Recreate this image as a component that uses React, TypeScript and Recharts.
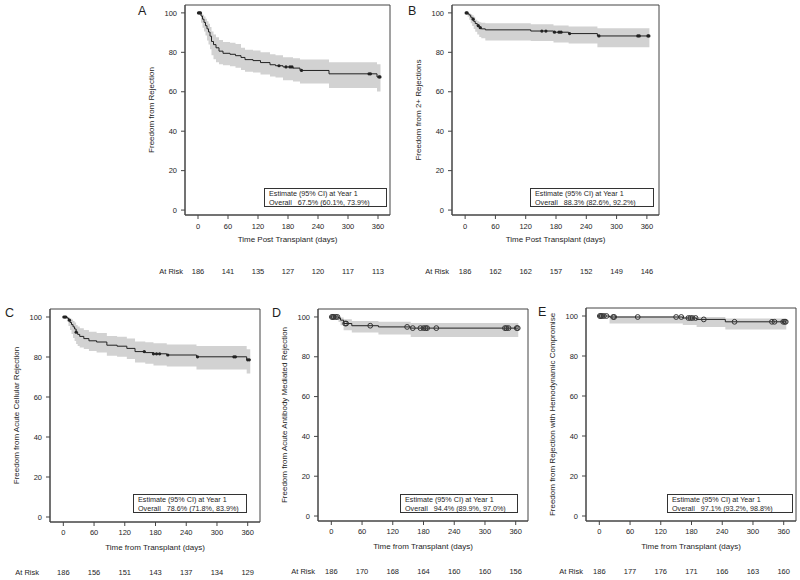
import React from "react";
import { ComposedChart, Area, Line, Scatter, XAxis, YAxis, ReferenceArea, Label } from "recharts";

const TICKS_X = [0, 60, 120, 180, 240, 300, 360];
const TICKS_Y = [0, 20, 40, 60, 80, 100];
const X_DOMAIN = [-26, 384];
const Y_DOMAIN = [-2.5, 104];

// A - any rejection
const A_TIME = [0, 6, 9, 12, 15, 18, 21, 24, 27, 31, 36, 42, 50, 64, 75, 86, 94, 110, 125, 144, 155, 170, 190, 204, 262, 358, 365];
const A_SURV = [100, 98.4, 96.8, 95.2, 93.5, 91.9, 90.3, 88.2, 85.5, 83.9, 82.3, 80.6, 79.5, 79.0, 78.3, 77.4, 76.3, 75.8, 74.8, 73.7, 73.2, 72.6, 72.0, 70.8, 69.1, 67.5, 67.5];
const A_LOWER = [100, 95, 92.5, 90.5, 88.5, 86, 84, 81.5, 78.5, 76.5, 75, 74, 73.5, 73, 72.2, 71, 70.2, 69.8, 68.8, 67.8, 67.2, 65.8, 65.2, 64.2, 61.9, 60.1, 60.1];
const A_UPPER = [100, 99.6, 99, 98.2, 97, 95.8, 94.5, 92.8, 90.5, 89, 87.7, 86.2, 85.2, 84.8, 84.2, 82.3, 81.3, 80.9, 80, 79, 78.5, 77.5, 77, 76.3, 75, 73.9, 73.9];
const A_CENSOR = [1, 3, 5, 162, 176, 184, 188, 207, 342, 345, 362, 364];
const A_AT_RISK = [186, 141, 135, 127, 120, 117, 113];

// B - 2+ rejections
const B_TIME = [0, 5, 8, 11, 14, 17, 20, 24, 28, 32, 40, 130, 175, 205, 262, 365];
const B_SURV = [100, 99.5, 98.9, 97.8, 96.8, 95.7, 94.6, 93.5, 92.5, 91.9, 91.4, 90.8, 90.2, 89.5, 88.3, 88.3];
const B_LOWER = [100, 98, 96.5, 94.8, 93.3, 91.8, 90.4, 89, 87.8, 87.2, 86, 85.7, 85, 84.5, 82.6, 82.6];
const B_UPPER = [100, 100, 99.7, 99.3, 98.8, 98.1, 96.5, 95.8, 95.3, 95, 94.8, 94.2, 93.6, 93.1, 92.2, 92.2];
const B_CENSOR = [2, 4, 16, 26, 30, 152, 160, 177, 186, 190, 207, 265, 342, 345, 362, 364];
const B_AT_RISK = [186, 162, 162, 157, 152, 149, 146];

// C - acute cellular rejection
const C_TIME = [0, 7, 10, 13, 16, 19, 22, 25, 28, 32, 40, 50, 65, 85, 105, 124, 140, 160, 176, 202, 260, 358, 365];
const C_SURV = [100, 99.5, 98.4, 97.3, 96.2, 95.1, 94, 92.4, 91.3, 90.3, 89.2, 88.1, 87.5, 85.9, 85.4, 84.3, 82.7, 82.2, 81.6, 81, 80.1, 78.6, 78.6];
const C_LOWER = [100, 97.8, 95.5, 93.5, 91.5, 89.5, 88, 86.5, 85.5, 84.8, 84, 83, 82.3, 80.6, 80.1, 79, 77.2, 76.6, 75.8, 75.2, 73.8, 71.8, 71.8];
const C_UPPER = [100, 100, 99.8, 99.3, 98.7, 98, 97.3, 96, 95.2, 94.4, 93.5, 92.6, 92, 90.5, 90.1, 89.2, 87.8, 87.4, 86.9, 86.3, 85.5, 83.9, 83.9];
const C_CENSOR = [1, 3, 5, 12, 25, 158, 176, 182, 188, 204, 262, 333, 336, 360, 363];
const C_AT_RISK = [186, 156, 151, 143, 137, 134, 129];

// D - antibody mediated rejection
const D_TIME = [0, 14, 18, 24, 40, 92, 155, 365];
const D_SURV = [100, 99.5, 98.4, 96.7, 95.6, 95.0, 94.4, 94.4];
const D_LOWER = [100, 97.5, 95.8, 93.3, 92.2, 91.2, 89.9, 89.9];
const D_UPPER = [100, 100, 99.7, 98.8, 98.0, 97.6, 97.0, 97.0];
const D_CENSOR = [1, 3, 5, 9, 12, 27, 29, 76, 148, 159, 174, 180, 184, 187, 205, 339, 342, 346, 362, 364];
const D_AT_RISK = [186, 170, 168, 164, 160, 160, 156];

// E - rejection with hemodynamic compromise
const E_TIME = [0, 20, 163, 190, 246, 365];
const E_SURV = [100, 99.5, 99.0, 98.3, 97.1, 97.1];
const E_LOWER = [100, 96.3, 95.5, 94.5, 93.2, 93.2];
const E_UPPER = [100, 99.9, 99.8, 99.5, 98.8, 98.8];
const E_CENSOR = [1, 3, 5, 9, 14, 27, 29, 75, 150, 160, 174, 178, 182, 188, 204, 264, 337, 342, 359, 362, 364];
const E_AT_RISK = [186, 177, 176, 171, 166, 163, 160];

const FONT = "'Liberation Sans', Arial, sans-serif";
const TEXT = "#1e1e1e";
const EDGE = "#444";
const Y_AXIS_W = 50;

// KM estimate at time t (value of the last step at or before t)
function stepValue(times: number[], surv: number[], t: number) {
  let v = surv[0];
  for (let i = 0; i < times.length; i++) if (times[i] <= t) v = surv[i];
  return v;
}

const TOP_ROW = { h: 210, axisH: 70, tickDy: 8, titleDy: 27, riskDy: 59, letterDy: 10 };
const BOTTOM_ROW = { axisH: 58, tickDy: 7, titleDy: 28, riskDy: 52.5, letterDy: 8 };

const PANELS = [
  {
    letter: "A", yTitle: "Freedom from Rejection", xTitle: "Time Post Transplant (days)",
    time: A_TIME, surv: A_SURV, lower: A_LOWER, upper: A_UPPER, censor: A_CENSOR, atRisk: A_AT_RISK,
    estimate: "67.5% (60.1%, 73.9%)", open: false,
    box: { x: 185, y: 5, w: 205, ...TOP_ROW, riskGap: 2, letterDx: 47, legend: { right: 3, bottom: 8, width: 123 } },
  },
  {
    letter: "B", yTitle: "Freedom from 2+ Rejections", xTitle: "Time Post Transplant (days)",
    time: B_TIME, surv: B_SURV, lower: B_LOWER, upper: B_UPPER, censor: B_CENSOR, atRisk: B_AT_RISK,
    estimate: "88.3% (82.6%, 92.2%)", open: false,
    box: { x: 452, y: 5, w: 207, ...TOP_ROW, riskGap: 3, letterDx: 44, legend: { right: 5, bottom: 8, width: 124 } },
  },
  {
    letter: "C", yTitle: "Freedom from Acute Cellular Rejection", xTitle: "Time from Transplant (days)",
    time: C_TIME, surv: C_SURV, lower: C_LOWER, upper: C_UPPER, censor: C_CENSOR, atRisk: C_AT_RISK,
    estimate: "78.6% (71.8%, 83.9%)", open: false,
    box: { x: 50, y: 309, w: 210, h: 213, ...BOTTOM_ROW, riskGap: 11, letterDx: 45, legend: { right: 13, bottom: 9, width: 114 } },
  },
  {
    letter: "D", yTitle: "Freedom from Acute Antibody Mediated Rejection", xTitle: "Time from Transplant (days)",
    time: D_TIME, surv: D_SURV, lower: D_LOWER, upper: D_UPPER, censor: D_CENSOR, atRisk: D_AT_RISK,
    estimate: "94.4% (89.9%, 97.0%)", open: true,
    box: { x: 318, y: 309, w: 210, h: 212, ...BOTTOM_ROW, riskGap: 3, letterDx: 46, legend: { right: 10, bottom: 8, width: 118 } },
  },
  {
    letter: "E", yTitle: "Freedom from Rejection with Hemodynamic Compromise", xTitle: "Time from Transplant (days)",
    time: E_TIME, surv: E_SURV, lower: E_LOWER, upper: E_UPPER, censor: E_CENSOR, atRisk: E_AT_RISK,
    estimate: "97.1% (93.2%, 98.8%)", open: true,
    box: { x: 586, y: 308, w: 210, h: 213, ...BOTTOM_ROW, riskGap: 3, letterDx: 48, legend: { right: 3, bottom: 8, width: 126 } },
  },
];

function KMPanel({ p }: { p: any }) {
  const b = p.box;
  const rows = p.time.map((t: number, i: number) => ({ t, s: p.surv[i], ci: [p.lower[i], p.upper[i]] }));
  const marks = p.censor.map((t: number) => ({ t, s: stepValue(p.time, p.surv, t) }));
  const width = Y_AXIS_W + b.w + 5;
  const height = 5 + b.h + b.axisH;

  const xTick = (props: any) => {
    const { x, y, payload } = props;
    const i = TICKS_X.indexOf(payload.value);
    return (
      <g>
        <text x={x} y={y} dy={b.tickDy} textAnchor="middle" fontSize={7.5} fill={TEXT} fontFamily={FONT}>
          {payload.value}
        </text>
        <text x={x} y={y} dy={b.riskDy - 6} textAnchor="middle" fontSize={7.5} fill={TEXT} fontFamily={FONT}>
          {p.atRisk[i]}
        </text>
      </g>
    );
  };

  const xLabels = ({ viewBox }: any) => (
    <g fontFamily={FONT} fill={TEXT}>
      <text x={viewBox.x + viewBox.width / 2} y={viewBox.y + b.titleDy} textAnchor="middle" fontSize={8}>
        {p.xTitle}
      </text>
      <text x={viewBox.x - b.riskGap} y={viewBox.y + b.riskDy} textAnchor="end" fontSize={7.5}>
        At Risk
      </text>
    </g>
  );

  const yLabels = ({ viewBox }: any) => {
    const tx = viewBox.x + viewBox.width - 31;
    const ty = viewBox.y + viewBox.height / 2;
    return (
      <g fontFamily={FONT} fill={TEXT}>
        <text x={tx} y={ty} textAnchor="middle" fontSize={8} transform={`rotate(-90, ${tx}, ${ty})`}>
          {p.yTitle}
        </text>
        <text x={viewBox.x + viewBox.width - b.letterDx} y={viewBox.y + b.letterDy} fontSize={12.5}>
          {p.letter}
        </text>
      </g>
    );
  };

  const mark = (props: any) =>
    p.open ? (
      <circle cx={props.cx} cy={props.cy} r={2.4} fill="none" stroke="#333" strokeWidth={1} />
    ) : (
      <circle cx={props.cx} cy={props.cy} r={1.6} fill="#222" />
    );

  return (
    <div style={{ position: "absolute", left: b.x - Y_AXIS_W, top: b.y - 5, width, height }}>
      <ComposedChart width={width} height={height} data={rows} margin={{ top: 5, right: 5, bottom: 0, left: 0 }}>
        <XAxis
          dataKey="t"
          type="number"
          domain={X_DOMAIN}
          ticks={TICKS_X}
          interval={0}
          allowDataOverflow
          height={b.axisH}
          tickSize={4}
          tickMargin={2}
          stroke={EDGE}
          tick={xTick}
        >
          <Label content={xLabels} />
        </XAxis>
        <YAxis
          type="number"
          domain={Y_DOMAIN}
          ticks={TICKS_Y}
          interval={0}
          allowDataOverflow
          width={Y_AXIS_W}
          tickSize={4}
          tickMargin={4}
          stroke={EDGE}
          tick={{ fontSize: 7.5, fill: TEXT, fontFamily: FONT }}
        >
          <Label content={yLabels} />
        </YAxis>
        <Area dataKey="ci" type="stepAfter" fill="#d2d2d2" fillOpacity={1} stroke="none" isAnimationActive={false} />
        <Line dataKey="s" type="stepAfter" stroke="#222" strokeWidth={1} dot={false} isAnimationActive={false} />
        <Scatter data={marks} dataKey="s" shape={mark} isAnimationActive={false} />
        <ReferenceArea
          x1={X_DOMAIN[0]}
          x2={X_DOMAIN[1]}
          y1={Y_DOMAIN[0]}
          y2={Y_DOMAIN[1]}
          fill="none"
          stroke={EDGE}
          strokeWidth={1}
        />
      </ComposedChart>
      <div
        style={{
          position: "absolute",
          left: Y_AXIS_W + b.w - b.legend.right - b.legend.width,
          top: 5 + b.h - b.legend.bottom - 19,
          width: b.legend.width,
          height: 19,
          boxSizing: "border-box",
          border: "1px solid #333",
          background: "#fff",
          fontFamily: FONT,
          fontSize: 7.2,
          lineHeight: "9px",
          color: TEXT,
          padding: "0 4px",
          whiteSpace: "nowrap",
        }}
      >
        <div>Estimate (95% CI) at Year 1</div>
        <div>
          Overall<span style={{ marginLeft: 6 }}>{p.estimate}</span>
        </div>
      </div>
    </div>
  );
}

export default function App() {
  return (
    <div
      style={{
        position: "absolute",
        left: 0,
        top: 0,
        width: 800,
        height: 580,
        overflow: "hidden",
        background: "#fff",
        fontFamily: FONT,
      }}
    >
      {PANELS.map((p) => (
        <KMPanel key={p.letter} p={p} />
      ))}
    </div>
  );
}
